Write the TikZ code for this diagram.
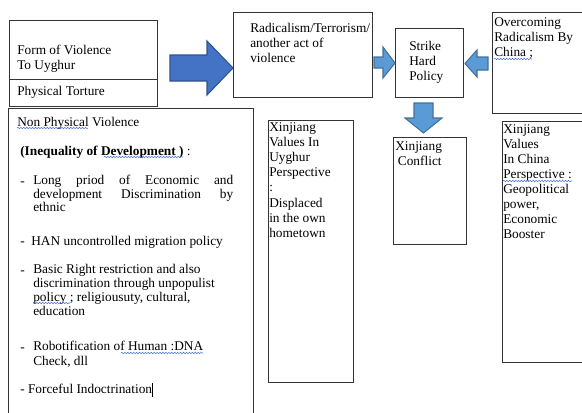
\documentclass[tikz,border=0pt]{standalone}
\usepackage{fontspec}
\setmainfont{Liberation Serif}
\usetikzlibrary{positioning,decorations.pathmorphing}
\definecolor{arrB}{RGB}{68,114,196}
\definecolor{arrBd}{RGB}{47,82,143}
\definecolor{arrL}{RGB}{91,155,213}
\definecolor{arrLd}{RGB}{65,113,156}
\definecolor{spellB}{RGB}{70,110,220}
\newcommand\topstrut{\rule{0pt}{7.5pt}}

\tikzset{
  box/.style 2 args={draw=black!80,line width=0.8pt,anchor=north west,inner sep=0pt,
    minimum width=#1*0.75pt,minimum height=#2*0.75pt},
  txt/.style={anchor=north west,inner sep=0pt,align=left,font=\fontsize{10}{11.25}\selectfont,
    execute at begin node=\topstrut},
  bigarr/.style={fill=arrB,draw=arrBd,line width=0.8pt,line join=miter},
  smallarr/.style={fill=arrL,draw=arrLd,line width=0.8pt,line join=miter},
  squig/.style={spellB,line width=0.4pt,decorate,
    decoration={snake,amplitude=0.5pt,segment length=2.2pt}},
}

\begin{document}
\begin{tikzpicture}[x=0.75pt,y=-0.75pt]
\useasboundingbox (0,0) rectangle (582,412);
\clip (0,0) rectangle (582,412);
% boxes
\node[box={148}{59}] (form) at (9,20) {};
\node[box={148}{27}] (phys) at (9,79) {};
\node[box={245}{330}] (nonphys) at (8,108) {};
\node[box={139}{85}] (rad) at (233,12) {};
\node[box={68}{69}] (strike) at (395,28) {};
\node[box={120}{101}] (overc) at (492,12) {};
\node[box={85}{262}] (uyg) at (268,120) {};
\node[box={73}{107}] (conf) at (393,137) {};
\node[box={110}{241}] (china) at (502,121) {};
% block arrows
\draw[bigarr] (170,55) -- (207,55) -- (207,41) -- (233,68) -- (207,95) -- (207,81) -- (170,81) -- cycle;
\draw[smallarr] (374,57) -- (383,57) -- (383,47) -- (strike.west) -- (383,78) -- (383,68) -- (374,68) -- cycle;
\draw[smallarr] (488,57) -- (477,57) -- (477,50) -- (465,63.5) -- (477,77) -- (477,70) -- (488,70) -- cycle;
\draw[smallarr] (414,103) -- (433,103) -- (433,118) -- (442,118) -- (423.5,133) -- (405,118) -- (414,118) -- cycle;
% texts
\node[txt] (formt) at (17,45) {Form of Violence\\To Uyghur};
\node[txt] (physt) at (17,85) {Physical Torture};
\node[txt] (radt) at (250,23) {Radicalism/Terrorism/\\another act of\\violence};
\node[txt] (striket) at (409,41) {Strike\\Hard\\Policy};
\node[txt] (overct) at (494,17) {Overcoming\\Radicalism By\\China ;};
\node[txt] (conft) at (395,141) {Xinjiang\\\hspace{2pt}Conflict};
\node[txt,font=\fontsize{10}{11.4}\selectfont] (uygt) at (269,122)
  {Xinjiang\\Values In\\Uyghur\\Perspective\\:\\Displaced\\in the own\\hometown};
\node[txt] (chinat) at (503,124)
  {Xinjiang\\Values\\In China\\Perspective :\\Geopolitical\\power,\\Economic\\Booster};
% non physical list
\node[txt] (npt) at (17,116) {Non Physical Violence};
\node[txt] (ineq) at (20,145) {\textbf{(Inequality of Development )} :};
\node[txt] (d1) at (20,175) {-};
\node[txt,font=\fontsize{10}{10.2}\selectfont] (i1) at (33,175)
  {\makebox[150pt][s]{Long priod of Economic and}\\\makebox[150pt][s]{development Discrimination by}\\ethnic};
\node[txt] (i2) at (20,235) {-\ \ HAN uncontrolled migration policy};
\node[txt] (d3) at (20,264) {-};
\node[txt,font=\fontsize{10}{10.6}\selectfont] (i3) at (33,264)
  {Basic Right restriction and also\\discrimination through unpopulist\\policy ; religiousuty, cultural,\\education};
\node[txt] (d4) at (20,341) {-};
\node[txt] (i4) at (33,341) {Robotification of Human :DNA\\Check, dll};
\node[txt] (i5) at (20,383) {-\ Forceful Indoctrination\rule[-2pt]{0.6pt}{10pt}};
% spell-check marks
\draw[squig] (17,128) -- (88,128);
\draw[squig] (104,157) -- (183,157);
\draw[squig] (33,303) -- (70,303);
\draw[squig] (121,353) -- (203,353);
\draw[squig] (494,59) -- (532,59);
\draw[squig] (503,181) -- (572,181);
\end{tikzpicture}
\end{document}
